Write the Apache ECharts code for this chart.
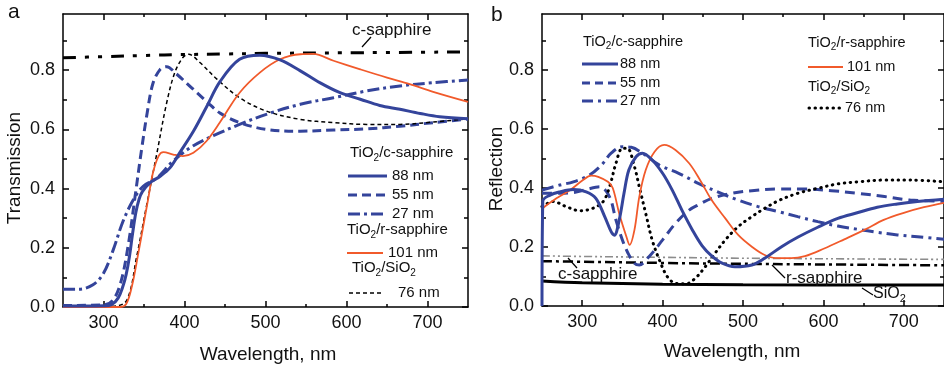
<!DOCTYPE html>
<html><head><meta charset="utf-8">
<script src="https://cdn.jsdelivr.net/npm/echarts@6/dist/echarts.min.js"></script>
<style>html,body{margin:0;padding:0;background:#fff}#c{width:944px;height:369px}</style>
</head><body><div id="c"></div>
<script>
// ---------- DATA ----------
const xMajor = [300, 400, 500, 600, 700];
const xMinor = [350, 450, 550, 650];
const yMajor = [0, 0.2, 0.4, 0.6, 0.8];
const yMinor = [0.1, 0.3, 0.5, 0.7, 0.9];

// Panel a: Transmission
const wlTcsap = [250, 300, 350, 400, 450, 500, 600, 750];
const Tcsap = [0.842, 0.846, 0.850, 0.853, 0.855, 0.857, 0.859, 0.862];
const wlT88 = [250, 300, 310, 318, 324, 328, 332, 336, 340, 344, 348, 357, 370, 382, 394, 411, 427, 444, 468, 493, 518, 543, 567, 592, 617, 641, 666, 691, 715, 750];
const T88 = [0.003, 0.004, 0.008, 0.03, 0.07, 0.11, 0.17, 0.25, 0.32, 0.365, 0.39, 0.419, 0.442, 0.47, 0.521, 0.594, 0.675, 0.762, 0.837, 0.851, 0.835, 0.798, 0.758, 0.724, 0.702, 0.681, 0.668, 0.654, 0.643, 0.636];
const wlT55 = [250, 300, 312, 322, 331, 339, 347, 354, 361, 370, 378, 389, 411, 431, 444, 468, 501, 543, 584, 625, 666, 707, 750];
const T55 = [0.005, 0.007, 0.024, 0.09, 0.217, 0.374, 0.532, 0.657, 0.755, 0.803, 0.812, 0.79, 0.735, 0.685, 0.655, 0.623, 0.6, 0.594, 0.598, 0.602, 0.611, 0.623, 0.635];
const wlT27 = [250, 270, 287, 300, 312, 324, 337, 349, 366, 386, 411, 444, 468, 501, 543, 584, 625, 666, 707, 750];
const T27 = [0.06, 0.06, 0.075, 0.114, 0.193, 0.289, 0.363, 0.408, 0.436, 0.493, 0.545, 0.589, 0.617, 0.651, 0.685, 0.707, 0.73, 0.747, 0.758, 0.767];
const wlT101 = [250, 320, 328, 335, 343, 349, 355, 361, 368, 374, 386, 398, 411, 427, 444, 468, 493, 518, 543, 559, 584, 617, 650, 678, 707, 750];
const T101 = [0.0, 0.0, 0.01, 0.069, 0.182, 0.272, 0.363, 0.453, 0.51, 0.523, 0.515, 0.51, 0.521, 0.56, 0.625, 0.724, 0.792, 0.837, 0.854, 0.855, 0.832, 0.803, 0.775, 0.753, 0.727, 0.693];
const wlT76 = [250, 314, 329, 341, 353, 366, 378, 388, 398, 405, 419, 440, 468, 501, 543, 584, 625, 666, 707, 750];
const T76 = [0.002, 0.003, 0.024, 0.171, 0.34, 0.521, 0.69, 0.792, 0.843, 0.854, 0.826, 0.77, 0.707, 0.662, 0.634, 0.623, 0.617, 0.617, 0.625, 0.636];

// Panel b: Reflection
const wlR88 = [250, 251, 260, 272, 289, 305, 317, 328, 336, 340, 346, 352, 358, 367, 375, 387, 400, 412, 424, 437, 449, 461, 474, 490, 511, 527, 548, 568, 593, 618, 642, 667, 692, 717, 750];
const R88 = [0.0, 0.355, 0.376, 0.387, 0.395, 0.387, 0.365, 0.303, 0.252, 0.24, 0.291, 0.382, 0.461, 0.506, 0.518, 0.495, 0.45, 0.393, 0.325, 0.258, 0.205, 0.17, 0.145, 0.133, 0.139, 0.162, 0.201, 0.233, 0.267, 0.297, 0.316, 0.335, 0.346, 0.354, 0.362];
const wlR101 = [250, 268, 285, 301, 311, 320, 332, 338, 346, 355, 359, 365, 371, 379, 390, 402, 416, 433, 446, 461, 478, 494, 511, 527, 544, 560, 577, 601, 626, 651, 675, 700, 725, 750];
const R101 = [0.33, 0.365, 0.393, 0.427, 0.442, 0.438, 0.421, 0.40, 0.314, 0.235, 0.207, 0.258, 0.37, 0.461, 0.523, 0.546, 0.529, 0.484, 0.43, 0.359, 0.297, 0.241, 0.201, 0.173, 0.162, 0.162, 0.169, 0.195, 0.226, 0.258, 0.292, 0.316, 0.335, 0.35];
const wlR55 = [250, 272, 290, 305, 322, 334, 342, 350, 357, 365, 371, 383, 400, 416, 433, 446, 461, 486, 511, 544, 577, 610, 643, 676, 708, 750];
const R55 = [0.382, 0.382, 0.385, 0.395, 0.404, 0.37, 0.291, 0.224, 0.179, 0.145, 0.139, 0.167, 0.224, 0.28, 0.325, 0.345, 0.365, 0.382, 0.391, 0.397, 0.397, 0.391, 0.382, 0.371, 0.359, 0.355];
const wlR27 = [250, 272, 289, 309, 324, 336, 350, 361, 375, 396, 420, 445, 470, 494, 519, 544, 568, 593, 618, 643, 667, 692, 717, 750];
const R27 = [0.393, 0.41, 0.421, 0.444, 0.478, 0.518, 0.54, 0.538, 0.518, 0.478, 0.45, 0.415, 0.385, 0.359, 0.337, 0.32, 0.303, 0.286, 0.271, 0.26, 0.25, 0.241, 0.235, 0.226];
const wlR76 = [250, 264, 280, 297, 313, 326, 334, 342, 350, 356, 365, 371, 379, 387, 396, 406, 416, 429, 441, 453, 462, 478, 494, 511, 527, 544, 568, 593, 618, 643, 676, 708, 750];
const R76 = [0.337, 0.354, 0.337, 0.323, 0.331, 0.354, 0.404, 0.484, 0.535, 0.535, 0.472, 0.404, 0.314, 0.224, 0.156, 0.099, 0.077, 0.075, 0.095, 0.133, 0.167, 0.224, 0.269, 0.303, 0.331, 0.357, 0.382, 0.399, 0.414, 0.421, 0.427, 0.427, 0.421];
const wlRref = [250, 300, 400, 500, 750];
const Rrsap = [0.170, 0.168, 0.165, 0.162, 0.158];
const Rcsap = [0.152, 0.150, 0.146, 0.143, 0.138];
const RSiO2 = [0.085, 0.079, 0.074, 0.072, 0.071];

// ---------- STYLE ----------
const FONT = '"Liberation Sans", Arial, sans-serif';
const BLUE = '#34449b';
const RED = '#f15a2b';
const pairs = (xs, ys) => xs.map((x, i) => [x, ys[i]]);

const ctx = document.createElement('canvas').getContext('2d');
function tw(s, size) { ctx.font = size + 'px ' + FONT; return ctx.measureText(s).width; }
function richText(x, cy, parts, size) {
  const out = []; let cur = x;
  parts.forEach(([s, sub]) => {
    const fs = sub ? Math.round(size * 0.68) : size;
    out.push({ type: 'text', x: cur, y: sub ? cy + size * 0.32 : cy, z: 100,
      style: { text: s, fontSize: fs, fontFamily: FONT, fill: '#111', align: 'left', verticalAlign: 'middle' } });
    cur += tw(s, fs);
  });
  return out;
}
function txt(x, y, s, size, extra) {
  return Object.assign({ type: 'text', x: x, y: y, z: 100,
    style: { text: s, fontSize: size, fontFamily: FONT, fill: '#111', align: 'left', verticalAlign: 'middle' } }, extra || {});
}
function seg(x1, y1, x2, y2, stroke, w, dash, cap) {
  return { type: 'line', z: 100, shape: { x1, y1, x2, y2 },
    style: { stroke: stroke, lineWidth: w, lineDash: dash || null, lineCap: cap || 'butt' } };
}

const grids = [
  { left: 63, top: 14, width: 405, height: 293 },
  { left: 542, top: 14, width: 404, height: 292 }
];
const xAxes = [], yAxes = [];
grids.forEach((g, gi) => {
  const base = { type: 'value', gridIndex: gi, min: 250, max: 750, splitLine: { show: false } };
  xAxes.push(Object.assign({}, base, { position: 'bottom',
    axisLine: { show: true, onZero: false, lineStyle: { color: '#000', width: 1.5 } },
    axisTick: { show: true, inside: true, length: 6, customValues: xMajor, lineStyle: { color: '#000', width: 1.5 } },
    axisLabel: { show: true, customValues: xMajor, fontSize: 18, fontFamily: FONT, color: '#111', margin: 7 } }));
  xAxes.push(Object.assign({}, base, { position: 'bottom',
    axisLine: { show: false, onZero: false },
    axisTick: { show: true, inside: true, length: 3, customValues: xMinor, lineStyle: { color: '#000', width: 1.5 } },
    axisLabel: { show: false } }));
  xAxes.push(Object.assign({}, base, { position: 'top',
    axisLine: { show: true, onZero: false, lineStyle: { color: '#000', width: 1.5 } },
    axisTick: { show: true, inside: true, length: 6, customValues: xMajor, lineStyle: { color: '#000', width: 1.5 } },
    axisLabel: { show: false } }));
  xAxes.push(Object.assign({}, base, { position: 'top',
    axisLine: { show: false, onZero: false },
    axisTick: { show: true, inside: true, length: 3, customValues: xMinor, lineStyle: { color: '#000', width: 1.5 } },
    axisLabel: { show: false } }));
  const ybase = { type: 'value', gridIndex: gi, min: 0, max: 0.99, splitLine: { show: false } };
  yAxes.push(Object.assign({}, ybase, { position: 'left',
    axisLine: { show: true, onZero: false, lineStyle: { color: '#000', width: 1.5 } },
    axisTick: { show: true, inside: true, length: 6, customValues: yMajor, lineStyle: { color: '#000', width: 1.5 } },
    axisLabel: { show: true, customValues: yMajor, formatter: v => v.toFixed(1), fontSize: 18, fontFamily: FONT, color: '#111', margin: 8 } }));
  yAxes.push(Object.assign({}, ybase, { position: 'left',
    axisLine: { show: false, onZero: false },
    axisTick: { show: true, inside: true, length: 4, customValues: yMinor, lineStyle: { color: '#000', width: 1.5 } },
    axisLabel: { show: false } }));
  yAxes.push(Object.assign({}, ybase, { position: 'right',
    axisLine: { show: true, onZero: false, lineStyle: { color: '#000', width: 1.5 } },
    axisTick: { show: true, inside: true, length: 6, customValues: yMajor, lineStyle: { color: '#000', width: 1.5 } },
    axisLabel: { show: false } }));
  yAxes.push(Object.assign({}, ybase, { position: 'right',
    axisLine: { show: false, onZero: false },
    axisTick: { show: true, inside: true, length: 4, customValues: yMinor, lineStyle: { color: '#000', width: 1.5 } },
    axisLabel: { show: false } }));
});

function line(gi, xs, ys, color, width, type, extra) {
  return Object.assign({ type: 'line', xAxisIndex: gi * 4, yAxisIndex: gi * 4, data: pairs(xs, ys),
    showSymbol: false, symbol: 'none', smooth: 0.35, clip: true, silent: true, animation: false,
    lineStyle: { color: color, width: width, type: type || 'solid' } }, extra || {});
}

const series = [
  // panel a
  line(0, wlTcsap, Tcsap, '#000', 3, [13, 9, 4, 9, 4, 9]),
  line(0, wlT27, T27, BLUE, 3, [12, 4, 3, 4]),
  line(0, wlT55, T55, BLUE, 3, [9, 5]),
  line(0, wlT76, T76, '#000', 1.5, [4, 3]),
  line(0, wlT101, T101, RED, 1.8),
  line(0, wlT88, T88, BLUE, 3),
  // panel b
  line(1, wlRref, Rrsap, '#8c8c8c', 1.6, [8, 3, 2, 3, 2, 3]),
  line(1, wlRref, Rcsap, '#000', 2.5, [10, 4, 3, 4]),
  line(1, wlRref, RSiO2, '#000', 3),
  line(1, wlR27, R27, BLUE, 3, [12, 5, 3, 5]),
  line(1, wlR55, R55, BLUE, 3, [10, 6]),
  line(1, wlR76, R76, '#000', 3, [0.5, 5.5], { lineStyle: { color: '#000', width: 3, type: [0.5, 5.5], cap: 'round' } }),
  line(1, wlR101, R101, RED, 1.8),
  line(1, wlR88, R88, BLUE, 3)
];

const LS = 15, LS2 = 14.5;
const graphics = [].concat(
  // panel letters and titles
  [txt(8, 12, 'a', 21), txt(491, 15, 'b', 21)],
  [txt(15, 168, 'Transmission', 19, { rotation: Math.PI / 2, style: { text: 'Transmission', fontSize: 19, fontFamily: FONT, fill: '#111', align: 'center', verticalAlign: 'middle' } })],
  [txt(497, 169, 'Reflection', 19, { rotation: Math.PI / 2, style: { text: 'Reflection', fontSize: 19, fontFamily: FONT, fill: '#111', align: 'center', verticalAlign: 'middle' } })],
  [txt(268, 355, 'Wavelength, nm', 19, { style: { text: 'Wavelength, nm', fontSize: 19, fontFamily: FONT, fill: '#111', align: 'center', verticalAlign: 'middle' } })],
  [txt(732, 352, 'Wavelength, nm', 19, { style: { text: 'Wavelength, nm', fontSize: 19, fontFamily: FONT, fill: '#111', align: 'center', verticalAlign: 'middle' } })],
  // panel a annotation
  [txt(352, 30, 'c-sapphire', 17), seg(362, 47, 371, 37, '#000', 1.2)],
  // panel a legend
  richText(350, 153, [['TiO', 0], ['2', 1], ['/c-sapphire', 0]], LS),
  [seg(348, 176, 387, 176, BLUE, 3), txt(392, 176, '88 nm', LS)],
  [seg(348, 195, 387, 195, BLUE, 3, [9, 5]), txt(392, 195, '55 nm', LS)],
  [seg(348, 214, 387, 214, BLUE, 3, [12, 4, 3, 4]), txt(392, 214, '27 nm', LS)],
  richText(347, 230, [['TiO', 0], ['2', 1], ['/r-sapphire', 0]], LS),
  [seg(347, 253, 383, 253, RED, 1.8), txt(388, 253, '101 nm', LS)],
  richText(352, 268, [['TiO', 0], ['2', 1], ['/SiO', 0], ['2', 1]], LS),
  [seg(349, 293, 383, 293, '#000', 1.5, [4, 3]), txt(398, 293, '76 nm', LS)],
  // panel b legend
  richText(583, 42, [['TiO', 0], ['2', 1], ['/c-sapphire', 0]], LS2),
  [seg(582, 64, 618, 64, BLUE, 3), txt(620, 64, '88 nm', LS2)],
  [seg(582, 83, 618, 83, BLUE, 3, [8, 5]), txt(620, 83, '55 nm', LS2)],
  [seg(582, 101, 618, 101, BLUE, 3, [11, 5, 3, 5]), txt(620, 101, '27 nm', LS2)],
  richText(808, 43, [['TiO', 0], ['2', 1], ['/r-sapphire', 0]], LS2),
  [seg(808, 67, 843, 67, RED, 1.8), txt(847, 67, '101 nm', LS2)],
  richText(808, 87, [['TiO', 0], ['2', 1], ['/SiO', 0], ['2', 1]], LS2),
  [seg(809, 108, 842, 108, '#000', 3, [0.5, 5.5], 'round'), txt(845, 108, '76 nm', LS2)],
  // panel b annotations
  [txt(558, 274, 'c-sapphire', 17), seg(568, 258, 577, 268, '#000', 1.2)],
  [txt(786, 278, 'r-sapphire', 17), seg(772, 265, 785, 278, '#000', 1.2)],
  richText(873, 294, [['SiO', 0], ['2', 1]], 16),
  [seg(862, 288, 873, 295, '#000', 1.2)]
);

const chart = echarts.init(document.getElementById('c'), null, { renderer: 'canvas' });
chart.setOption({
  animation: false,
  backgroundColor: '#fff',
  grid: grids,
  xAxis: xAxes,
  yAxis: yAxes,
  series: series,
  graphic: graphics
});
</script>
</body></html>
